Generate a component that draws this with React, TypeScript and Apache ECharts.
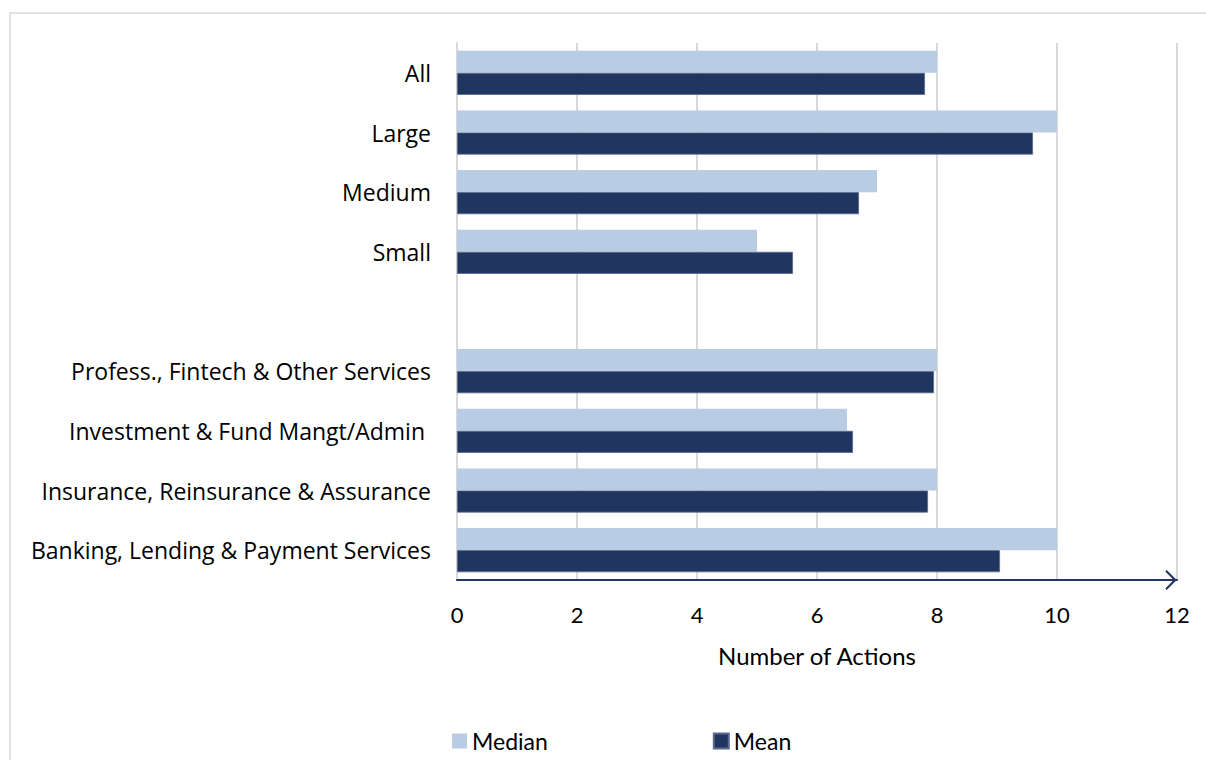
import React, { useEffect, useRef } from "react";
import * as echarts from "echarts";

// Number of actions by firm size and by sector
const categories = [
  "All",
  "Large",
  "Medium",
  "Small",
  "",
  "Profess., Fintech & Other Services",
  "Investment & Fund Mangt/Admin ",
  "Insurance, Reinsurance & Assurance",
  "Banking, Lending & Payment Services",
];
const medianValues: (number | string)[] = [8, 10, 7, 5, "-", 8, 6.5, 8, 10];
const meanValues: (number | string)[] = [7.8, 9.6, 6.7, 5.6, "-", 7.95, 6.6, 7.85, 9.05];
const xTicks = { min: 0, max: 12, interval: 2 };

const LIGHT = "#B8CCE4";
const DARK = "#203560";

export default function App() {
  const ref = useRef<HTMLDivElement>(null);

  useEffect(() => {
    if (!ref.current) return;
    const chart = echarts.init(ref.current, undefined, { renderer: "svg" });
    chart.setOption({
      animation: false,
      backgroundColor: "#ffffff",
      graphic: [
        {
          type: "rect",
          shape: { x: 10, y: 13, width: 1300, height: 800 },
          style: { fill: "none", stroke: "#d9d9d9", lineWidth: 1.5 },
          silent: true,
          z: -10,
        },
      ],
      grid: { left: 457, right: 29, top: 43, bottom: 180, containLabel: false },
      legend: {
        left: 452,
        top: 728,
        padding: 0,
        itemWidth: 15,
        itemHeight: 15,
        itemGap: 165,
        icon: "rect",
        textStyle: { fontFamily: "Lato", fontSize: 23, color: "#000000", lineHeight: 26 },
        data: ["Median", "Mean"],
      },
      xAxis: {
        type: "value",
        min: xTicks.min,
        max: xTicks.max,
        interval: xTicks.interval,
        name: "Number of Actions",
        nameLocation: "middle",
        nameGap: 63,
        nameTextStyle: { fontFamily: "Lato", fontSize: 24, color: "#000000" },
        axisLine: {
          show: true,
          lineStyle: { color: DARK, width: 2 },
          symbol: ["none", "path://M0,10 L10,0 L20,10 L18.4,11.4 L10,3 L1.6,11.4 Z"],
          symbolSize: [20, 13],
          symbolOffset: [0, -6],
        },
        axisTick: { show: false },
        axisLabel: {
          margin: 23,
          fontFamily: "Lato",
          fontSize: 22,
          color: "#000000",
        },
        splitLine: { show: true, lineStyle: { color: "#d9d9d9", width: 2 } },
      },
      yAxis: {
        type: "category",
        inverse: true,
        data: categories,
        axisLine: { show: true, lineStyle: { color: "#d9d9d9", width: 2 } },
        axisTick: { show: false },
        axisLabel: {
          margin: 26,
          fontFamily: "Open Sans",
          fontSize: 23,
          color: "#000000",
          padding: [0, 0, 2, 0],
        },
      },
      series: [
        {
          name: "Median",
          type: "bar",
          data: medianValues,
          barGap: "0%",
          barCategoryGap: "26%",
          itemStyle: { color: LIGHT },
        },
        {
          name: "Mean",
          type: "bar",
          data: meanValues,
          barGap: "0%",
          barCategoryGap: "26%",
          itemStyle: { color: DARK, borderColor: "#5b6a8c", borderWidth: 0.8 },
        },
      ],
    });
    return () => chart.dispose();
  }, []);

  return (
    <div
      ref={ref}
      style={{ position: "absolute", left: 0, top: 0, width: 1206, height: 760 }}
    />
  );
}
